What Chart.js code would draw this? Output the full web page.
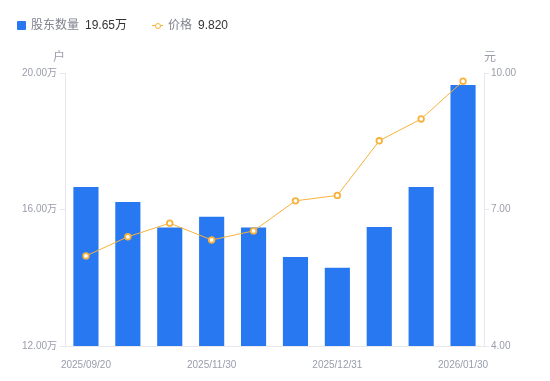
<!DOCTYPE html>
<html><head><meta charset="utf-8">
<script src="https://cdn.jsdelivr.net/npm/chart.js@4"></script>
<style>
html,body{margin:0;padding:0;background:#fff;}
#wrap{position:relative;width:550px;height:381px;}
#legend{position:absolute;left:0;top:0;width:550px;height:40px;font-family:"Liberation Sans","Noto Sans CJK SC",sans-serif;font-size:12px;}
.item{position:absolute;top:17px;height:16px;line-height:16px;white-space:nowrap;}
.name{color:#80838f;}
.val{color:#333;margin-left:6px;}
</style></head><body>
<div id="wrap">
<canvas id="c" width="550" height="381"></canvas>
<div id="legend">
  <div class="item" style="left:17px"><span style="display:inline-block;width:9px;height:9px;background:#2878f2;border-radius:1px;vertical-align:-1px;margin-right:5px"></span><span class="name">股东数量</span><span class="val" id="v1"></span></div>
  <div class="item" style="left:152px"><span style="display:inline-block;position:relative;width:11px;height:9px;vertical-align:-1px;margin-right:5px"><span style="position:absolute;left:0;top:4px;width:11px;height:1px;background:#f7b23b"></span><span style="position:absolute;left:2.5px;top:1.5px;width:4px;height:4px;border:1.5px solid #f7b23b;border-radius:50%;background:#fff"></span></span><span class="name">价格</span><span class="val" id="v2"></span></div>
</div>
</div>
<script>
const categories = ["2025/09/20","2025/10/31","2025/11/14","2025/11/30","2025/12/10","2025/12/19","2025/12/31","2026/01/09","2026/01/20","2026/01/30"];
const holders = [16.66, 16.22, 15.47, 15.79, 15.47, 14.61, 14.29, 15.49, 16.66, 19.65];
const prices = [5.98, 6.40, 6.70, 6.33, 6.53, 7.19, 7.31, 8.51, 8.99, 9.82];
const leftTicks = [12, 16, 20];
const rightTicks = [4, 7, 10];
const legendHolders = "19.65万";
const legendPrice = "9.820";

document.getElementById('v1').textContent = legendHolders;
document.getElementById('v2').textContent = legendPrice;

const FONT = 'Liberation Sans, "Noto Sans CJK SC", sans-serif';
const TICK_COLOR = '#9a9dab';
const LINE_COLOR = '#e8e8ec';

const unitPlugin = {
  id: 'units',
  afterDraw(chart) {
    const ctx = chart.ctx;
    ctx.save();
    ctx.font = '12px ' + FONT;
    ctx.fillStyle = TICK_COLOR;
    ctx.textBaseline = 'middle';
    ctx.textAlign = 'center';
    const a = chart.chartArea;
    ctx.fillText('户', a.left - 6, a.top - 15);
    ctx.fillText('元', a.right + 6, a.top - 15);
    ctx.restore();
  }
};

new Chart(document.getElementById('c'), {
  data: {
    labels: categories,
    datasets: [
      {
        type: 'line', label: '价格', data: prices, yAxisID: 'y1', order: 0,
        borderColor: '#f7b23b', borderWidth: 1, backgroundColor: '#fff',
        pointRadius: 2.8, pointBorderWidth: 1.8, pointBorderColor: '#f7b23b', pointBackgroundColor: '#fff',
        tension: 0, clip: false
      },
      {
        type: 'bar', label: '股东数量', data: holders, yAxisID: 'y', order: 1,
        backgroundColor: '#2878f2', barPercentage: 0.6, categoryPercentage: 1
      }
    ]
  },
  options: {
    responsive: false, animation: false,
    layout: { padding: { top: 73, left: 0, right: 0, bottom: 0 } },
    plugins: { legend: { display: false }, tooltip: { enabled: false } },
    scales: {
      x: {
        grid: { display: false },
        border: { display: true, color: LINE_COLOR },
        ticks: {
          autoSkip: false, maxRotation: 0, color: TICK_COLOR, font: { family: FONT, size: 10 }, padding: 5,
          callback: function(v, i) { return i % 3 === 0 ? categories[i] : ''; }
        },
        afterFit(s) { s.height = 35; }
      },
      y: {
        position: 'left', min: 12, max: 20,
        afterBuildTicks(s) { s.ticks = leftTicks.map(v => ({ value: v })); },
        grid: { drawOnChartArea: false, drawTicks: true, tickLength: 5, color: LINE_COLOR },
        border: { display: true, color: LINE_COLOR },
        ticks: { color: TICK_COLOR, font: { family: FONT, size: 10 }, padding: 3,
          callback: v => v.toFixed(2) + '万' },
        afterFit(s) { s.width = 65; }
      },
      y1: {
        position: 'right', min: 4, max: 10,
        afterBuildTicks(s) { s.ticks = rightTicks.map(v => ({ value: v })); },
        grid: { drawOnChartArea: false, drawTicks: true, tickLength: 5, color: LINE_COLOR },
        border: { display: true, color: LINE_COLOR },
        ticks: { color: TICK_COLOR, font: { family: FONT, size: 10 }, padding: 2,
          callback: v => v.toFixed(2) },
        afterFit(s) { s.width = 66; }
      }
    }
  },
  plugins: [unitPlugin]
});
</script>
</body></html>
